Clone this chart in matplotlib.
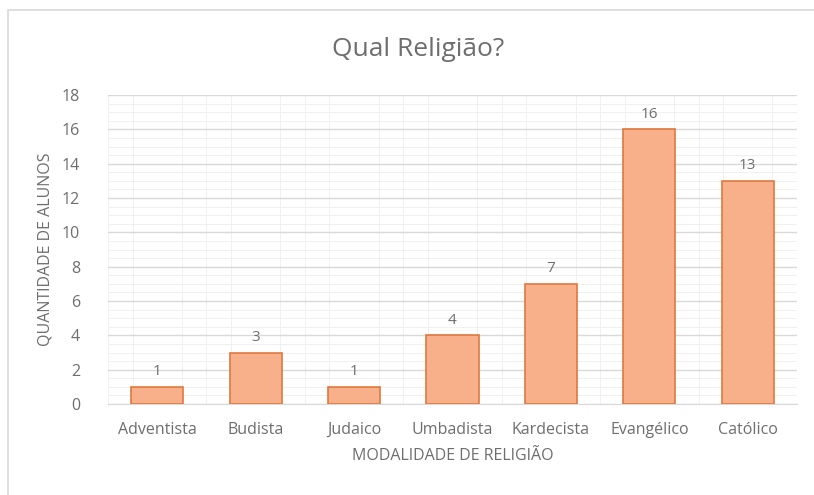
import matplotlib
matplotlib.use('Agg')
import matplotlib.pyplot as plt
from matplotlib.patches import Rectangle

religioes = ['Adventista', 'Budista', 'Judaico', 'Umbadista', 'Kardecista', 'Evangélico', 'Católico']
alunos = [1, 3, 1, 4, 7, 16, 13]

plt.rcParams['font.family'] = ['Open Sans', 'DejaVu Sans']
texto = '#6e6e6e'

fig = plt.figure(figsize=(8.14, 4.95), dpi=100)
# moldura externa do gráfico
fig.patches.append(Rectangle((8 / 814, -0.01), 1, 1.01 - 10 / 495, transform=fig.transFigure,
                             fill=False, edgecolor='#d9d9d9', linewidth=1.2))

ax = fig.add_axes([108 / 814, 1 - 404 / 495, 689 / 814, 309 / 495])
x = range(len(religioes))
bars = ax.bar(x, alunos, width=0.53, color='#f7b08a', edgecolor='#e0783f', linewidth=1.2, zorder=3)
for b, v in zip(bars, alunos):
    ax.text(b.get_x() + b.get_width() / 2, v + 0.45, str(v), ha='center', va='bottom',
            fontsize=11, color=texto)

ax.set_xlim(-0.5, len(religioes) - 0.5)
ax.set_ylim(0, 18)
ax.set_yticks(range(0, 19, 2))
ax.set_yticks([i * 0.5 for i in range(37)], minor=True)
ax.set_xticks(list(x))
ax.set_xticks([i * 0.25 - 0.5 for i in range(29)], minor=True)
ax.set_xticklabels(religioes)
ax.grid(which='major', axis='y', color='#d9d9d9', linewidth=1, zorder=0)
ax.grid(which='minor', axis='both', color='#f0f0f0', linewidth=0.7, zorder=0)
ax.tick_params(which='both', length=0, colors=texto, labelsize=11.5)
ax.tick_params(axis='y', pad=20)
ax.tick_params(axis='x', pad=13)
for s in ['top', 'right', 'left']:
    ax.spines[s].set_visible(False)
ax.spines['bottom'].set_color('#d9d9d9')

fig.text(418 / 814, 1 - 50 / 495, 'Qual Religião?', fontsize=19, color=texto,
         ha='center', va='center')
ax.set_xlabel('MODALIDADE DE RELIGIÃO', fontsize=11.5, color=texto, labelpad=7)
ax.set_ylabel('QUANTIDADE DE ALUNOS', fontsize=11.5, color=texto, labelpad=6)

plt.savefig('out.png', dpi=100)
